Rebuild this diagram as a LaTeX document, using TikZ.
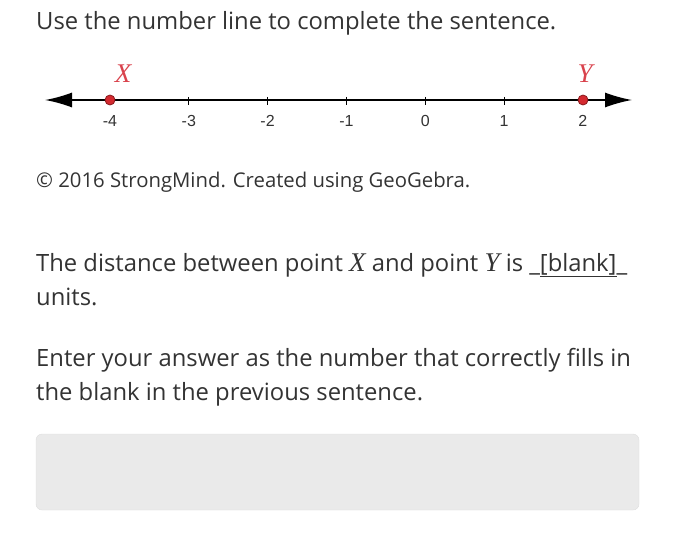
\documentclass[tikz,border=0pt]{standalone}
\usepackage{fontspec}
\setmainfont{Open Sans}
\newfontfamily\axisfont{Liberation Sans}
\newfontfamily\varfont{Liberation Serif}
\usetikzlibrary{arrows.meta, positioning}

\definecolor{txtgray}{HTML}{333333}
\definecolor{ptred}{HTML}{D42A30}
\definecolor{lblred}{HTML}{D9434D}
\definecolor{boxgray}{HTML}{EAEAEA}

\newcommand{\pvar}[1]{{\varfont\itshape\fontsize{27}{27}\selectfont #1}}

\tikzset{
  para/.style={anchor=base west, inner sep=0pt, text=txtgray,
    font=\fontsize{23.8}{28}\selectfont},
  small para/.style={para, font=\fontsize{20.3}{24}\selectfont},
  ticklbl/.style={inner sep=0pt, text=txtgray, font=\axisfont\fontsize{16}{16}\selectfont},
  ptdot/.style={circle, fill=ptred, draw=ptred!65!black, line width=0.8pt,
    minimum size=10pt, inner sep=0pt},
  ptlbl/.style={inner sep=0pt, text=lblred, font=\varfont\itshape\fontsize{27}{27}\selectfont},
  ansbox/.style={rounded corners=6pt, fill=boxgray, draw=boxgray!95!black,
    minimum width=603pt, minimum height=76pt}
}

\begin{document}
\begin{tikzpicture}[x=1pt, y=-1pt]
    \useasboundingbox (0,0) rectangle (679,559);

    \node [para] (title) at (36,30) {Use the number line to complete the sentence.};

    % number line
    \coordinate (lend) at (45,100);
    \coordinate (rend) at (632,100);
    \draw [line width=1.6pt, {Latex[length=27pt,width=15pt]}-{Latex[length=27pt,width=15pt]}] (lend) to (rend);
    \foreach \n [count=\i] in {-4, -3, -2, -1, 0, 1, 2}
    {
      \draw [line width=0.8pt] (110+78.8*\i-78.8, 97) to (110+78.8*\i-78.8, 105);
      \node [ticklbl] (tick\i) at (110+78.8*\i-78.8, 121) {\n};
    }

    \node [ptdot] (X) at (110,100) {};
    \node [ptdot] (Y) at (583,100) {};
    \node [ptlbl] (Xlbl) at (123,74) {X};
    \node [ptlbl] (Ylbl) at (585,74) {Y};

    \node [small para] (credit) at (36,187) {© 2016 StrongMind. Created using GeoGebra.};

    \node [para] (q1) at (36,271) {The distance between point \pvar{X} and point \pvar{Y} is \_\underline{[blank]}\_};
    \node [para] (q2) at (36,305) {units.};
    \node [para] (e1) at (36,366) {Enter your answer as the number that correctly fills in};
    \node [para] (e2) at (36,400) {the blank in the previous sentence.};

    \node [ansbox] (answer) at (337.5,472) {};
  \end{tikzpicture}
\end{document}
